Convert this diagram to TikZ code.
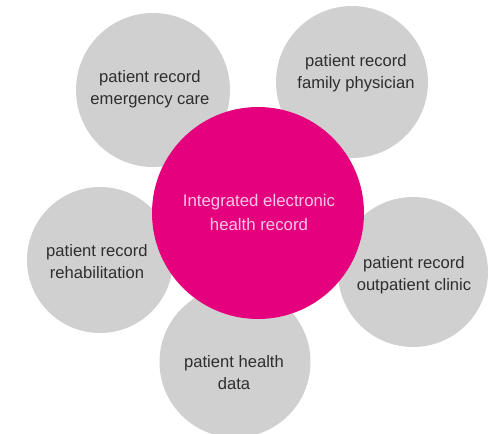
\documentclass[tikz,border=0pt]{standalone}
\usepackage{fontspec}
\setmainfont{Liberation Sans}
\definecolor{mag}{HTML}{E5007D}
\definecolor{bub}{HTML}{D0D0D0}
\definecolor{txt}{HTML}{2E2E2E}
\definecolor{mtxt}{HTML}{F9C6E6}
\begin{document}
\begin{tikzpicture}[x=1pt,y=-1pt,
  bubble/.style={circle,fill=bub,draw=none,inner sep=0pt,minimum size=#1},
  hub/.style={circle,fill=mag,draw=none,inner sep=0pt,minimum size=212pt},
  lbl/.style={align=center,text=txt,font=\fontsize{16.6}{22}\selectfont,inner sep=0pt},
  hlbl/.style={align=center,text=mtxt,font=\fontsize{16.8}{24}\selectfont,inner sep=0pt}]
\useasboundingbox (0,0) rectangle (499,434);
\clip (0,0) rectangle (499,434);
\node[bubble=154pt] (ec) at (153,90) {};
\node[bubble=152pt] (fp) at (352,82) {};
\node[bubble=146pt] (rh) at (100,260) {};
\node[bubble=150pt] (oc) at (413,272) {};
\node[bubble=151pt] (hd) at (235,362) {};
\node[hub] (mg) at (258,213) {};
\node[lbl] (ecT) at (150,89) {patient record\\emergency care};
\node[lbl] (fpT) at (356,73) {patient record\\family physician};
\node[lbl] (rhT) at (97,262) {patient record\\rehabilitation};
\node[lbl] (ocT) at (414,275) {patient record\\outpatient clinic};
\node[lbl] (hdT) at (234,373) {patient health\\data};
\node[hlbl] (mgT) at (259,212) {Integrated electronic\\health record};
\end{tikzpicture}
\end{document}
